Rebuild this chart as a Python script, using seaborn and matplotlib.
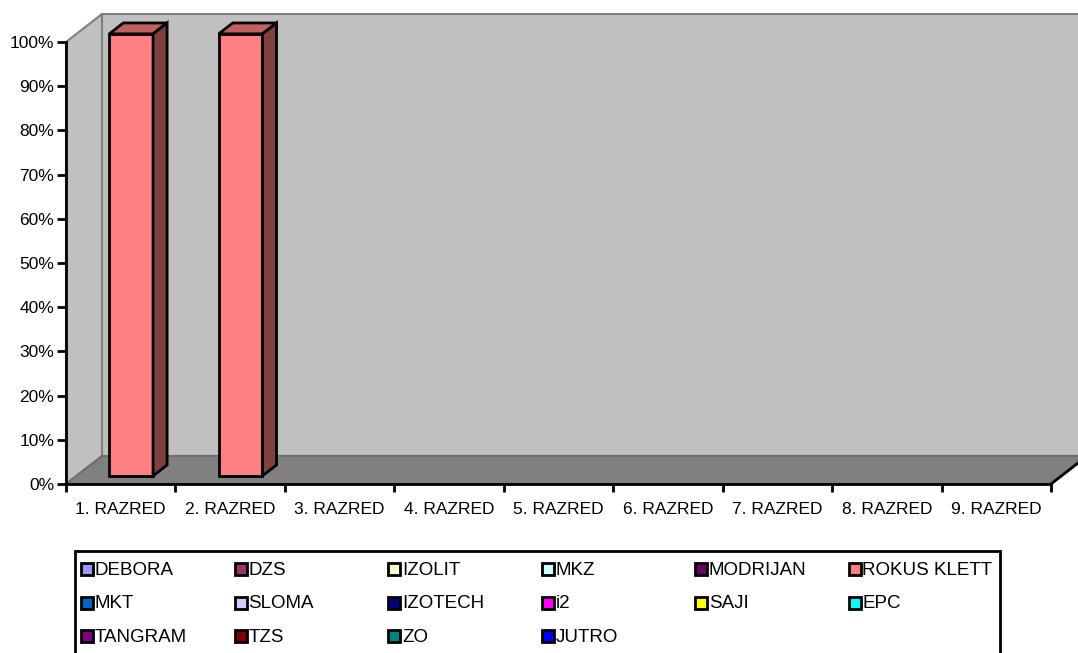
import numpy as np
import pandas as pd
import matplotlib
matplotlib.use('Agg')
import matplotlib.pyplot as plt
from matplotlib.patches import Polygon, Rectangle
from matplotlib.transforms import IdentityTransform, offset_copy
from matplotlib.ticker import PercentFormatter
from matplotlib.lines import Line2D
import seaborn as sns


# ---------------------------------------------------------------- podaci
razredi = ['1. RAZRED', '2. RAZRED', '3. RAZRED', '4. RAZRED', '5. RAZRED',
           '6. RAZRED', '7. RAZRED', '8. RAZRED', '9. RAZRED']

izdavaci = ['DEBORA', 'DZS', 'IZOLIT', 'MKZ', 'MODRIJAN', 'ROKUS KLETT',
            'MKT', 'SLOMA', 'IZOTECH', 'i2', 'SAJI', 'EPC',
            'TANGRAM', 'TZS', 'ZO', 'JUTRO']

boje = ['#9999FF', '#993366', '#FFFFCC', '#CCFFFF', '#660066', '#FF8080',
        '#0066CC', '#CCCCFF', '#000080', '#FF00FF', '#FFFF00', '#00FFFF',
        '#800080', '#800000', '#008080', '#0000FF']

# udio (%) po razredu
udio_rokus_klett = [100, 100, 0, 0, 0, 0, 0, 0, 0]
udio_ostali = [0, 0, 0, 0, 0, 0, 0, 0, 0]

redovi = []
for izd in izdavaci:
    vrijednosti = udio_rokus_klett if izd == 'ROKUS KLETT' else udio_ostali
    for raz, v in zip(razredi, vrijednosti):
        redovi.append({'izdavac': izd, 'razred': raz, 'udio': v})
df = pd.DataFrame(redovi)
df_crtaj = df[df.udio > 0]


# ---------------------------------------------------------------- stil
sns.set_style('white')
plt.rcParams['font.family'] = ['Liberation Sans', 'DejaVu Sans']

W, H = 1078, 653
fig = plt.figure(figsize=(W / 100, H / 100), dpi=100)
ax = fig.add_axes([66 / W, (H - 484) / H, 985 / W, 442 / H])
ax.patch.set_visible(False)

dub_x, dub_y = 36, 28     # 3D dubina u pikselima
d0, d1 = 0.29, 0.68       # prednja / straznja strana stupca

sns.barplot(data=df_crtaj, x='razred', y='udio', hue='izdavac', order=razredi,
            hue_order=izdavaci, palette=dict(zip(izdavaci, boje)), dodge=False,
            width=0.4, errorbar=None, legend=False, edgecolor='black',
            linewidth=2, saturation=1, ax=ax, zorder=3)

ax.set_xlim(-0.5, 8.5)
ax.set_ylim(0, 100)


def px(x, y, d):
    X, Y = ax.transData.transform((x, y))
    return (X + dub_x * d, Y + dub_y * d)


idt = IdentityTransform()

# zidovi i pod
zid = Polygon([px(-0.5, 0, 1), px(8.5, 0, 1), px(8.5, 100, 1), px(-0.5, 100, 1)],
              closed=True, facecolor='#C0C0C0', edgecolor='#808080', lw=1.5,
              transform=idt, clip_on=False, zorder=0.5)
lijevi = Polygon([px(-0.5, 0, 0), px(-0.5, 0, 1), px(-0.5, 100, 1), px(-0.5, 100, 0)],
                 closed=True, facecolor='#C0C0C0', edgecolor='#808080', lw=1.5,
                 transform=idt, clip_on=False, zorder=0.6)
pod = Polygon([px(-0.5, 0, 0), px(8.5, 0, 0), px(8.5, 0, 1), px(-0.5, 0, 1)],
              closed=True, facecolor='#808080', edgecolor='#6E6E6E', lw=1.5,
              transform=idt, clip_on=False, zorder=0.7)
for p in (zid, lijevi, pod):
    ax.add_patch(p)
(a, b), (c, e) = px(8.5, 0, 0), px(8.5, 0, 1)
ax.add_line(Line2D([a, c], [b, e], color='black', lw=2, transform=idt,
                   clip_on=False, zorder=0.8))

# 3D stupci
pomak = offset_copy(ax.transData, fig=fig, x=dub_x * d0, y=dub_y * d0, units='dots')
for bar in list(ax.patches):
    if bar in (zid, lijevi, pod) or bar.get_height() <= 0:
        continue
    x0, w, h = bar.get_x(), bar.get_width(), bar.get_height()
    x1 = x0 + w
    bar.set_transform(pomak)
    bar.set_clip_on(False)
    vrh = Polygon([px(x0, h, d0), px(x1, h, d0), px(x1, h, d1), px(x0, h, d1)],
                  closed=True, facecolor='#C06060', edgecolor='black', lw=2,
                  transform=idt, clip_on=False, zorder=3)
    bok = Polygon([px(x1, 0, d0), px(x1, h, d0), px(x1, h, d1), px(x1, 0, d1)],
                  closed=True, facecolor='#804040', edgecolor='black', lw=2,
                  transform=idt, clip_on=False, zorder=3)
    ax.add_patch(vrh)
    ax.add_patch(bok)

# osi
for s in ['top', 'right']:
    ax.spines[s].set_visible(False)
for s in ['left', 'bottom']:
    ax.spines[s].set_color('black')
    ax.spines[s].set_linewidth(2)
    ax.spines[s].set_zorder(4)

ax.set_yticks(np.arange(0, 101, 10))
ax.yaxis.set_major_formatter(PercentFormatter(decimals=0))
ax.tick_params(axis='y', which='major', direction='out', length=6.5, width=2,
               color='black', left=True, pad=2, labelsize=12.5, labelcolor='black')
ax.set_xticks(np.arange(-0.5, 9, 1), minor=True)
ax.tick_params(axis='x', which='minor', direction='out', length=6, width=2,
               color='black', bottom=True)
ax.tick_params(axis='x', which='major', length=0, pad=13, labelsize=12.5,
               labelcolor='black')
ax.set_xlabel('')
ax.set_ylabel('')

# legenda (kao u Excelu: redovi po 6)
fig.patches.append(Rectangle((75 / W, -0.05), 925 / W, (H - 551) / H + 0.05,
                             transform=fig.transFigure, facecolor='white',
                             edgecolor='black', lw=2, zorder=1))
for i, (izd, boja) in enumerate(zip(izdavaci, boje)):
    red, stup = i // 6, i % 6
    mx = 81 + 153.5 * stup
    my = 569 + 33.5 * red
    fig.patches.append(Rectangle((mx / W, 1 - (my + 6) / H), 12 / W, 12 / H,
                                 transform=fig.transFigure, facecolor=boja,
                                 edgecolor='black', lw=2, zorder=2))
    fig.text((mx + 14) / W, 1 - (my + 1.5) / H, izd, fontsize=13.5, va='center',
             ha='left', color='black', zorder=3)

plt.savefig('out.png', dpi=100)
